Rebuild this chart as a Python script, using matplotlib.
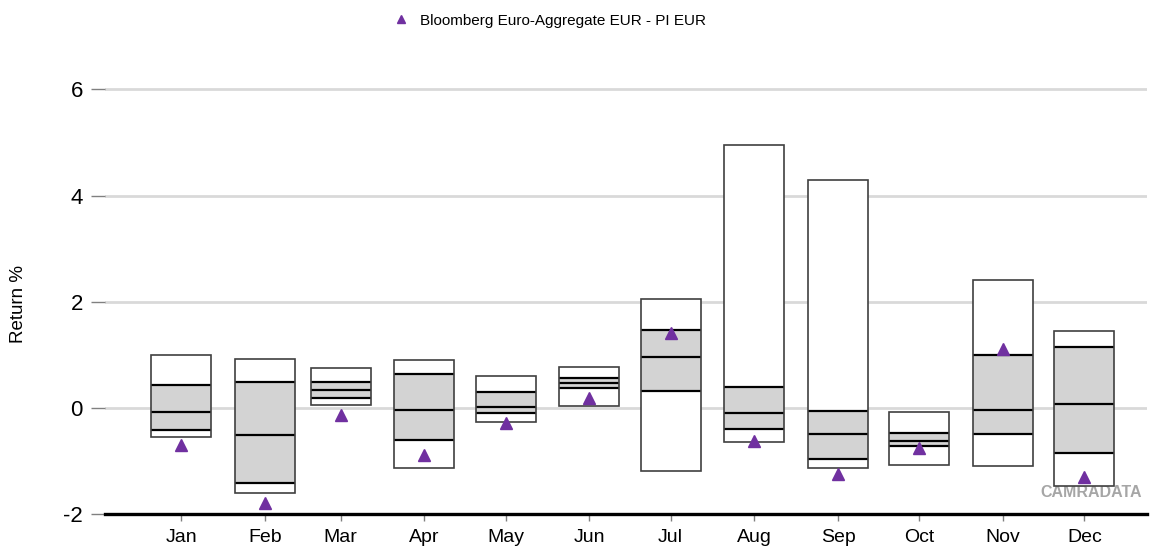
import numpy as np
import matplotlib.pyplot as plt

months = ['Jan', 'Feb', 'Mar', 'Apr', 'May', 'Jun',
          'Jul', 'Aug', 'Sep', 'Oct', 'Nov', 'Dec']
days_in_month = [31, 28, 31, 30, 31, 30, 31, 31, 30, 31, 30, 31]

# range of monthly returns: top / upper quartile / median / lower quartile / bottom
top    = [1.00, 0.92, 0.75, 0.91, 0.60, 0.77, 2.06, 4.96, 4.29, -0.08, 2.41, 1.45]
upper  = [0.43, 0.49, 0.48, 0.64, 0.29, 0.57, 1.47, 0.40, -0.06, -0.48, 0.99, 1.14]
median = [-0.08, -0.52, 0.33, -0.04, 0.02, 0.47, 0.95, -0.10, -0.50, -0.62, -0.04, 0.07]
lower  = [-0.42, -1.41, 0.18, -0.60, -0.09, 0.38, 0.32, -0.40, -0.97, -0.71, -0.50, -0.86]
bottom = [-0.55, -1.60, 0.06, -1.14, -0.26, 0.04, -1.19, -0.65, -1.14, -1.07, -1.09, -1.47]

# index returns
bench = [-0.70, -1.79, -0.13, -0.88, -0.29, 0.18, 1.41, -0.63, -1.25, -0.76, 1.10, -1.31]
bench_name = 'Bloomberg Euro-Aggregate EUR - PI EUR'

plt.rcParams['font.family'] = ['Liberation Sans', 'DejaVu Sans']

fig = plt.figure(figsize=(11.54, 5.54), dpi=100)
ax = fig.add_axes([0.091, 0.0722, 0.903, 0.8143])

# months sit on a day-of-year scale
x = np.concatenate([[0], np.cumsum(days_in_month)[:-1]])
width = 22.2
top = np.array(top)
upper = np.array(upper)
median = np.array(median)
lower = np.array(lower)
bottom = np.array(bottom)

ax.bar(x, top - bottom, bottom=bottom, width=width, color='white',
       edgecolor='none', zorder=2)
ax.bar(x, upper - lower, bottom=lower, width=width, color='#d3d3d3',
       edgecolor='none', zorder=3)
for vals in (upper, median, lower):
    ax.hlines(vals, x - width / 2, x + width / 2, color='black', lw=1.6, zorder=4)
ax.bar(x, top - bottom, bottom=bottom, width=width, fill=False,
       edgecolor='#404040', lw=1.2, zorder=5)

ax.plot(x, bench, '^', color='#7030a0', markersize=8, ls='none',
        zorder=6, label=bench_name)

ax.set_xlim(-28.1, 357.2)
ax.set_ylim(-2, 6.5)
ax.set_yticks([-2, 0, 2, 4, 6])
ax.set_yticklabels(['-2', '0', '2', '4', '6'], fontsize=16)
ax.set_xticks(x)
ax.set_xticklabels(months, fontsize=14)
ax.set_ylabel('Return %', fontsize=13.5)
ax.yaxis.set_label_coords(-0.075, 0.466)

ax.grid(axis='y', color='#d9d9d9', lw=2, zorder=0)
ax.set_axisbelow(True)
for s in ['top', 'right', 'left']:
    ax.spines[s].set_visible(False)
ax.spines['bottom'].set_color('black')
ax.spines['bottom'].set_linewidth(2.4)
ax.spines['bottom'].set_zorder(7)
ax.tick_params(axis='y', length=10, width=1, color='#808080', pad=6)
ax.tick_params(axis='x', length=5, width=1, color='#808080', pad=6)

ax.text(0.995, 0.0466, 'CAMRADATA', transform=ax.transAxes, ha='right',
        va='center', fontsize=11.5, fontweight='bold', color='#a6a6a6', zorder=1)

fig.legend(loc='upper center', bbox_to_anchor=(0.473, 1.0), frameon=False,
           fontsize=11, handletextpad=0.3, markerscale=0.75)

fig.savefig('out.png', dpi=100)
